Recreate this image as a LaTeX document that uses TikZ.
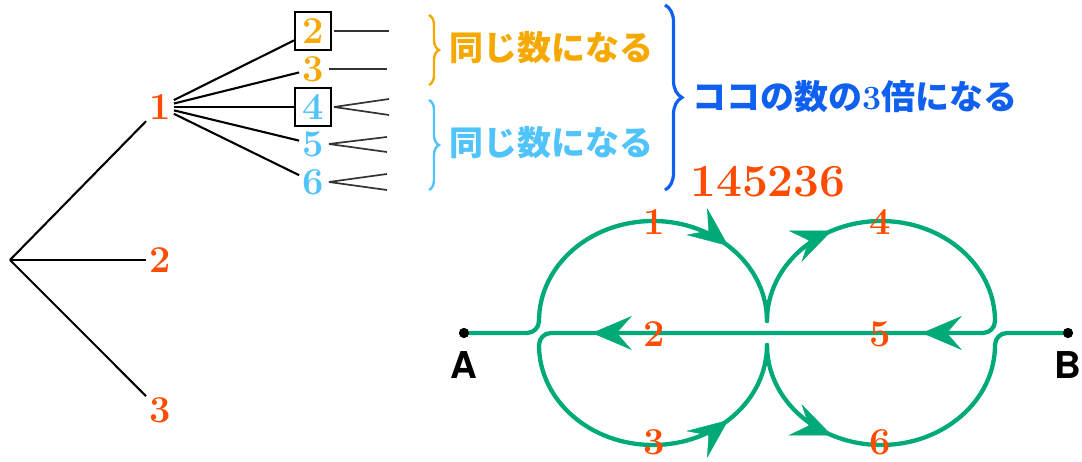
\documentclass[tikz,border=0pt]{standalone}
\usepackage{fontspec}
\setsansfont{TeX Gyre Heros}
\newfontfamily\jp{Noto Sans CJK JP}
\usetikzlibrary{decorations.pathreplacing,decorations.markings,arrows.meta}
\definecolor{rd}{RGB}{255,75,0}
\definecolor{og}{RGB}{245,168,0}
\definecolor{lb}{RGB}{80,195,250}
\definecolor{bl}{RGB}{15,95,240}
\definecolor{gr}{RGB}{0,170,120}
\begin{document}
\begin{tikzpicture}[x=1pt,y=1pt,
  dig/.style={font=\fontsize{38}{40}\selectfont\bfseries, inner sep=3pt},
  boxd/.style={draw=black, line width=2pt, minimum width=36pt, minimum height=38pt, inner sep=0pt},
  tree/.style={line width=2.1pt, black},
  sline/.style={line width=1.7pt, black!80},
  brc/.style={decorate, decoration={brace, amplitude=#1}, line width=2.4pt},
  jpt/.style={font=\jp\bfseries\fontsize{34}{38}\selectfont, inner sep=0pt, anchor=west},
  route/.style={gr, line width=4.3pt, line cap=round},
  arr/.style={postaction={decorate, decoration={markings, mark=at position #1 with {\arrow{Stealth[length=40pt,width=34pt,inset=15pt,line width=0.5pt]}}}}},
  dotn/.style={circle, fill=black, inner sep=0pt, minimum size=10pt},
  lab/.style={font=\sffamily\bfseries\fontsize{37}{40}\selectfont, inner sep=0pt},
]
\useasboundingbox (0,0) rectangle (1082,462);

% ---- tree ----
\coordinate (R) at (10,202);
\node[dig, text=rd] (n1) at (160,355) {1};
\node[dig, text=rd] (n2) at (160,202) {2};
\node[dig, text=rd] (n3) at (160,52) {3};
\draw[tree] (R) -- (n1);
\draw[tree] (R) -- (n2);
\draw[tree] (R) -- (n3);

\node[dig, boxd, text=og] (a2) at (313,431) {2};
\node[dig, text=og] (a3) at (313,393) {3};
\node[dig, boxd, text=lb] (a4) at (313,355) {4};
\node[dig, text=lb] (a5) at (313,318) {5};
\node[dig, text=lb] (a6) at (313,280) {6};
\foreach \n in {a2,a3,a4,a5,a6} \draw[tree] (n1) -- (\n);

\draw[sline] ([xshift=2pt]a2.east) -- ++(55,0);
\draw[sline] ([xshift=2pt]a3.east) -- ++(58,0);
\draw[sline] ([xshift=2pt]a4.east) -- ++(55,8) ([xshift=2pt]a4.east) -- ++(55,-8);
\draw[sline] ([xshift=2pt]a5.east) -- ++(58,7) ([xshift=2pt]a5.east) -- ++(58,-8);
\draw[sline] ([xshift=2pt]a6.east) -- ++(58,8) ([xshift=2pt]a6.east) -- ++(58,-8);

% ---- braces and texts ----
\draw[brc=10pt, og] (429,447) -- (429,377);
\draw[brc=10pt, lb] (429,362) -- (429,272);
\draw[brc=17pt, bl, line width=3.2pt] (665,457) -- (665,272);
\node[jpt, text=og] (t1) at (449,414) {同じ数になる};
\node[jpt, text=lb] (t2) at (449,319) {同じ数になる};
\node[jpt, text=bl] (t3) at (692,365) {ココの数の{\rmfamily\bfseries 3}倍になる};
\node[font=\fontsize{46}{48}\selectfont\bfseries, text=rd, anchor=west, inner sep=0pt] (num) at (690,280) {145236};

% ---- route ----
\node[dotn] (A) at (464,129) {};
\node[dotn] (B) at (1068,129) {};
\draw[route] (A.center) -- (527,129) arc[start angle=-90, end angle=0, radius=12pt];
\draw[route, arr=0.74] (539,141) arc[start angle=180, end angle=0, x radius=114pt, y radius=100pt];
\draw[route, arr=0.35] (767,141) arc[start angle=180, end angle=0, x radius=114pt, y radius=100pt];
\draw[route, arr=80pt, arr=410pt] (995,141) arc[start angle=0, end angle=-90, radius=12pt] -- (551,129) arc[start angle=90, end angle=180, radius=12pt];
\draw[route, arr=0.74] (539,117) arc[start angle=180, end angle=360, x radius=114pt, y radius=100pt];
\draw[route, arr=0.35] (767,117) arc[start angle=180, end angle=360, x radius=114pt, y radius=100pt];
\draw[route] (995,117) arc[start angle=180, end angle=90, radius=12pt] -- (B.center);
\node[dotn] at (A) {};
\node[dotn] at (B) {};

\node[lab] (la) at (464,97) {A};
\node[lab] (lb) at (1068,97) {B};

\node[dig, text=rd] (l1) at (654,240) {1};
\node[dig, text=rd] (l4) at (880,240) {4};
\node[dig, text=rd] (l2) at (654,128) {2};
\node[dig, text=rd] (l5) at (880,128) {5};
\node[dig, text=rd] (l3) at (654,20) {3};
\node[dig, text=rd] (l6) at (880,20) {6};
\end{tikzpicture}
\end{document}
